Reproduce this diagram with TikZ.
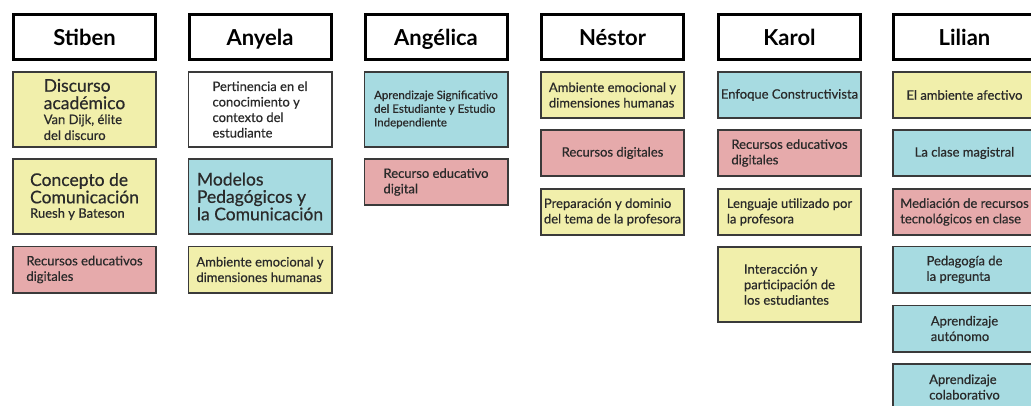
\documentclass[tikz,border=0pt]{standalone}
\usepackage{fontspec}
\setmainfont{Lato}[UprightFeatures={FakeBold=0.5}]
\definecolor{yel}{HTML}{F1EFAB}
\definecolor{pnk}{HTML}{E6AAAB}
\definecolor{cyn}{HTML}{A7DBE1}
\definecolor{edge}{HTML}{3A3A3A}
\definecolor{txt}{HTML}{2A2A2A}
\newcommand{\bigtx}{\fontsize{17.5}{17.4}\selectfont}
\newcommand{\smtx}{\fontsize{13}{15.5}\selectfont}
\newcommand{\tinytx}{\fontsize{11.5}{13.7}\selectfont}
\begin{document}
\begin{tikzpicture}[x=1pt,y=-1pt,
 hdr/.style={draw=black, line width=3pt, fill=white, minimum width=142pt, minimum height=45pt, inner sep=0pt, text height=20pt, text depth=4pt, font=\bfseries\fontsize{22}{26}\selectfont, text=black},
 card/.style={draw=edge, line width=1.6pt, minimum width=143.4pt, inner sep=0pt, align=left, font=\smtx, text=txt},
 tallcard/.style={card, minimum height=75.4pt},
 lowcard/.style={card, minimum height=46.4pt},
 fy/.style={fill=yel}, fp/.style={fill=pnk}, fc/.style={fill=cyn}, fw/.style={fill=white}]
\fill[white] (0,0) rectangle (1031,405);
\clip (0,0) rectangle (1031,405);
% headers
\node[hdr] (h1) at (84.5,37) {Stiben};
\node[hdr] (h2) at (260,37) {Anyela};
\node[hdr] (h3) at (436,37) {Angélica};
\node[hdr] (h4) at (612.5,37) {Néstor};
\node[hdr] (h5) at (789.5,37) {Karol};
\node[hdr] (h6) at (964.5,37) {Lilian};
% Stiben
\node[tallcard, fy, font=\bigtx] (s1) at (84.5,109.5) {Discurso\\académico\\[-2.5pt]{\smtx Van Dijk, élite}\\[-1.5pt]{\smtx del discuro}};
\node[tallcard, fy, font=\bigtx] (s2) at (84.5,196.5) {Concepto de\\Comunicación\\[-3pt]{\smtx Ruesh y Bateson}};
\node[lowcard, fp] (s3) at (84.5,269.5) {Recursos educativos\\digitales};
% Anyela
\node[tallcard, fw] (a1) at (260,109.5) {Pertinencia en el\\conocimiento y\\contexto del\\estudiante};
\node[tallcard, fc, font=\bigtx] (a2) at (260,196.5) {Modelos\\Pedagógicos y\\la Comunicación};
\node[lowcard, fy] (a3) at (260,269.5) {Ambiente emocional y\\dimensiones humanas};
% Angelica
\node[tallcard, fc, font=\tinytx] (g1) at (436,109.5) {Aprendizaje Significativo\\del Estudiante y Estudio\\Independiente};
\node[lowcard, fp] (g2) at (436,182) {Recurso educativo\\digital};
% Nestor
\node[lowcard, fy] (n1) at (612.5,95) {Ambiente emocional y\\dimensiones humanas};
\node[lowcard, fp] (n2) at (612.5,153) {Recursos digitales};
\node[lowcard, fy] (n3) at (612.5,212) {Preparación y dominio\\del tema de la profesora};
% Karol
\node[lowcard, fc] (k1) at (789.5,95) {Enfoque Constructivista};
\node[lowcard, fp] (k2) at (789.5,153) {Recursos educativos\\digitales};
\node[lowcard, fy] (k3) at (789.5,212) {Lenguaje utilizado por\\la profesora};
\node[tallcard, fy] (k4) at (789.5,284.5) {Interacción y\\participación de\\los estudiantes};
% Lilian
\node[lowcard, fy] (l1) at (964.5,95) {El ambiente afectivo};
\node[lowcard, fc] (l2) at (964.5,153) {La clase magistral};
\node[lowcard, fp] (l3) at (964.5,212) {Mediación de recursos\\tecnológicos en clase};
\node[lowcard, fc] (l4) at (964.5,269.5) {Pedagogía de\\la pregunta};
\node[lowcard, fc] (l5) at (964.5,328.5) {Aprendizaje\\autónomo};
\node[lowcard, fc] (l6) at (964.5,387) {Aprendizaje\\colaborativo};
\end{tikzpicture}
\end{document}
